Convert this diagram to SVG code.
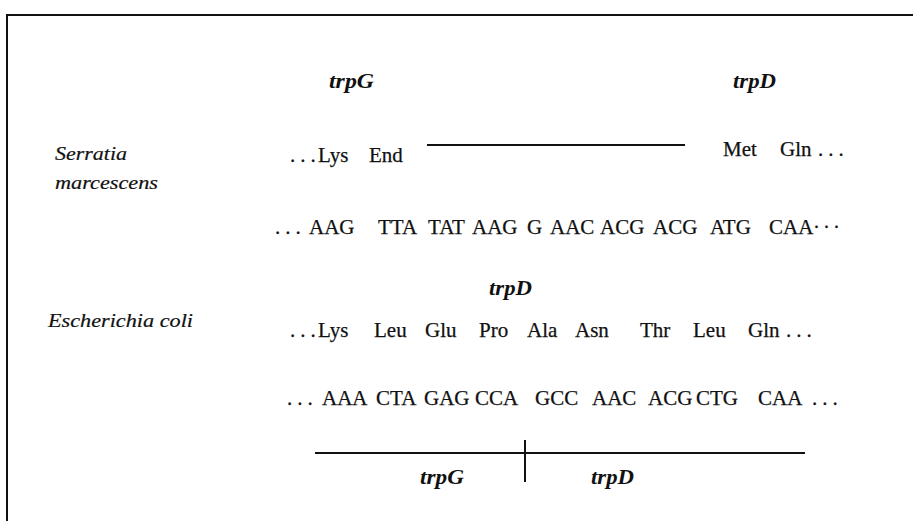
<svg xmlns="http://www.w3.org/2000/svg" width="913" height="521" viewBox="0 0 913 521">
  <style>
    .seq { font-family: "Liberation Serif", "Times New Roman", serif; font-size: 21px; fill: #111111; stroke: #111111; stroke-width: 0.25; }
    .dots { letter-spacing: 5px; }
    .gene { font-family: "Liberation Serif", "Times New Roman", serif; font-size: 21px; font-style: italic; font-weight: bold; fill: #111111; }
    .org { font-family: "Liberation Serif", "Times New Roman", serif; font-size: 19px; font-style: italic; fill: #111111; stroke: #111111; stroke-width: 0.2; }
    .rule { stroke: #111111; stroke-width: 2; fill: none; }
  </style>
  <rect width="913" height="521" fill="#ffffff"/>

  <!-- frame -->
  <g id="frame">
    <path class="rule" d="M7 521 V15 H913"/>
  </g>

  <!-- organism labels -->
  <g id="serratia">
    <text class="org" x="55" y="160" textLength="72" lengthAdjust="spacingAndGlyphs">Serratia</text>
    <text class="org" x="55" y="189" textLength="103" lengthAdjust="spacingAndGlyphs">marcescens</text>
  </g>
  <g id="ecoli">
    <text class="org" x="48" y="327" textLength="145" lengthAdjust="spacingAndGlyphs">Escherichia coli</text>
  </g>

  <!-- Serratia marcescens: gene labels, peptide and DNA -->
  <g id="sm-genes">
    <text class="gene" x="329" y="88" textLength="45" lengthAdjust="spacingAndGlyphs">trpG</text>
    <text class="gene" x="733" y="88" textLength="43" lengthAdjust="spacingAndGlyphs">trpD</text>
  </g>
  <g id="sm-peptide">
    <text class="seq dots" x="290" y="162">...</text>
    <text class="seq" x="318" y="162">Lys</text>
    <text class="seq" x="369" y="162">End</text>
    <text class="seq" x="723" y="156">Met</text>
    <text class="seq" x="780" y="156">Gln</text>
    <text class="seq dots" x="818" y="156">...</text>
  </g>
  <g id="sm-dna">
    <text class="seq dots" x="275" y="234">...</text>
    <text class="seq" x="309" y="234">AAG</text>
    <text class="seq" x="378" y="234">TTA</text>
    <text class="seq" x="428" y="234">TAT</text>
    <text class="seq" x="472" y="234">AAG</text>
    <text class="seq" x="527" y="234">G</text>
    <text class="seq" x="550" y="234">AAC</text>
    <text class="seq" x="600" y="234">ACG</text>
    <text class="seq" x="653" y="234">ACG</text>
    <text class="seq" x="710" y="234">ATG</text>
    <text class="seq" x="769" y="234">CAA</text>
    <text class="seq" x="813" y="234" letter-spacing="3">···</text>
  </g>

  <!-- Escherichia coli: gene label, peptide and DNA -->
  <g id="ec-gene">
    <text class="gene" x="489" y="295" textLength="43" lengthAdjust="spacingAndGlyphs">trpD</text>
  </g>
  <g id="ec-peptide">
    <text class="seq dots" x="290" y="337">...</text>
    <text class="seq" x="318" y="337">Lys</text>
    <text class="seq" x="374" y="337">Leu</text>
    <text class="seq" x="425" y="337">Glu</text>
    <text class="seq" x="479" y="337">Pro</text>
    <text class="seq" x="527" y="337">Ala</text>
    <text class="seq" x="575" y="337">Asn</text>
    <text class="seq" x="640" y="337">Thr</text>
    <text class="seq" x="693" y="337">Leu</text>
    <text class="seq" x="748" y="337">Gln</text>
    <text class="seq dots" x="786" y="337">...</text>
  </g>
  <g id="ec-dna">
    <text class="seq dots" x="287" y="405">...</text>
    <text class="seq" x="322" y="405">AAA</text>
    <text class="seq" x="376" y="405">CTA</text>
    <text class="seq" x="424" y="405">GAG</text>
    <text class="seq" x="475" y="405">CCA</text>
    <text class="seq" x="535" y="405">GCC</text>
    <text class="seq" x="592" y="405">AAC</text>
    <text class="seq" x="648" y="405">ACG</text>
    <text class="seq" x="696" y="405">CTG</text>
    <text class="seq" x="758" y="405">CAA</text>
    <text class="seq dots" x="812" y="405">...</text>
  </g>

  <!-- connectors: spacer line and fusion boundary -->
  <g id="connectors">
    <line class="rule" x1="427" y1="145" x2="685" y2="145"/>
    <line class="rule" x1="315" y1="453" x2="805" y2="453"/>
    <line class="rule" x1="525" y1="440" x2="525" y2="482" stroke-width="1.5"/>
  </g>
  <g id="fusion-genes">
    <text class="gene" x="420" y="484" textLength="44" lengthAdjust="spacingAndGlyphs">trpG</text>
    <text class="gene" x="591" y="484" textLength="43" lengthAdjust="spacingAndGlyphs">trpD</text>
  </g>
</svg>
